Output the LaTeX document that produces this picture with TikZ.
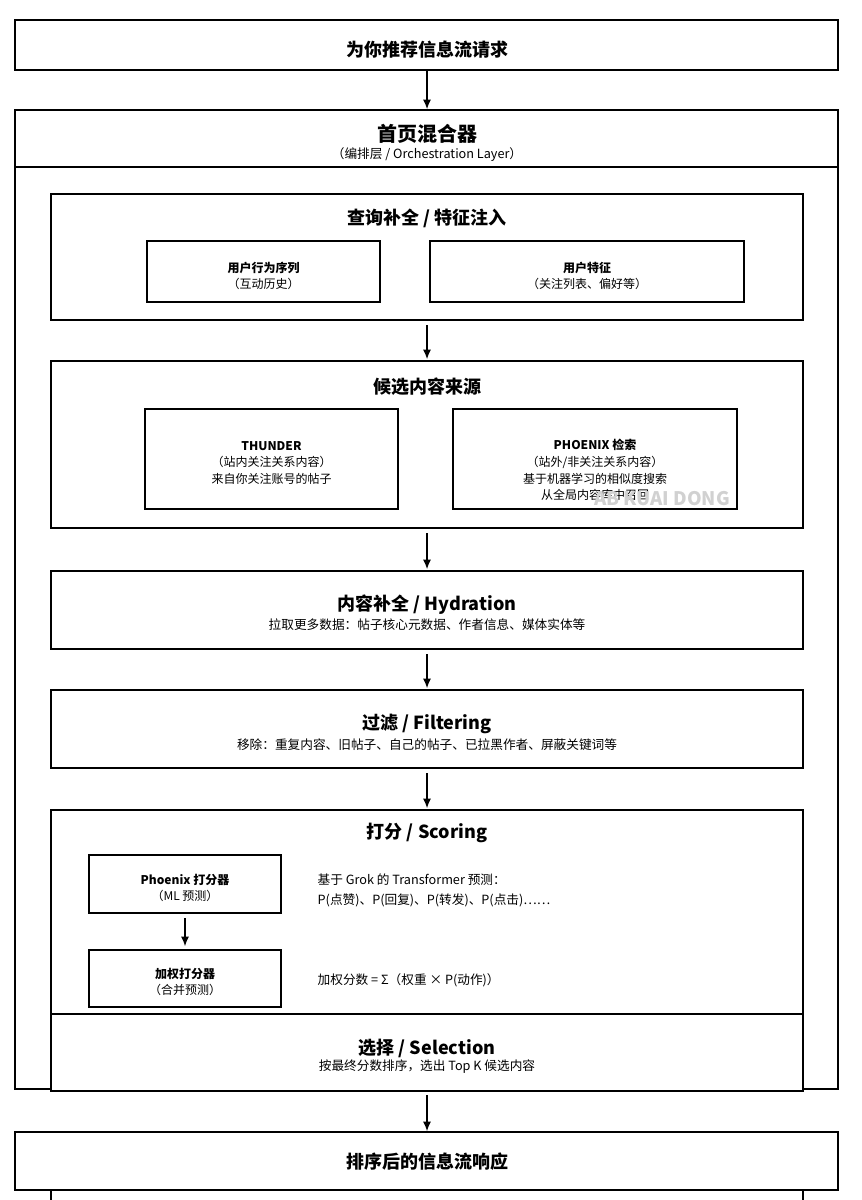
\documentclass[tikz,border=0pt]{standalone}
\usepackage{fontspec}
\setmainfont{Noto Sans CJK SC}
\usetikzlibrary{arrows.meta}

\tikzset{
  box/.style={draw, thick, fill=white, inner sep=0pt},
  flow/.style={thick, -{Latex[length=7pt,width=6pt]}},
  head/.style={font=\bfseries\fontsize{13.5}{16}\selectfont},
  sub/.style={font=\fontsize{9.5}{12}\selectfont},
  small/.style={font=\fontsize{9}{12.5}\selectfont, align=center},
}

\begin{document}
\begin{tikzpicture}[x=0.75pt, y=-0.75pt]
          % Canvas
          \useasboundingbox (0,0) rectangle (862,1200);

          % Request
          \draw[box] (15,20) rectangle (838,70);
          \node[head] (req) at (427,50) {为你推荐信息流请求};
          \coordinate (reqb) at (427,70);
          \coordinate (orct) at (427,109);
          \draw[flow] (reqb) -- (orct);

          % Orchestration layer
          \draw[box] (15,110) rectangle (838,1089);
          \draw[thick] (15,167) -- (838,167);
          \node[head, font=\bfseries\fontsize{15}{18}\selectfont] (orc) at (427,134) {首页混合器};
          \node[sub] (orcsub) at (427,155) {（编排层 / Orchestration Layer）};

          % Query hydration
          \draw[box] (51,194) rectangle (803,320);
          \node[head] (qry) at (427,218) {查询补全 / 特征注入};
          \draw[box] (147,241) rectangle (380,302);
          \node[small] (hist) at (263.5,276) {\textbf{用户行为序列}\\（互动历史）};
          \draw[box] (430,241) rectangle (744,302);
          \node[small] (feat) at (587,276) {\textbf{用户特征}\\（关注列表、偏好等）};
          \coordinate (qryb) at (427,325);
          \coordinate (srct) at (427,359);
          \draw[flow] (qryb) -- (srct);

          % Candidate sources
          \draw[box] (51,361) rectangle (803,528);
          \node[head] (src) at (427,387) {候选内容来源};
          \draw[box] (145,409) rectangle (398,509);
          \node[small] (thunder) at (271.5,463) {\textbf{THUNDER}\\（站内关注关系内容）\\来自你关注账号的帖子};
          \draw[box] (453,409) rectangle (737,509);
          \node[small] (phx) at (595,470) {\textbf{PHOENIX 检索}\\（站外/非关注关系内容）\\基于机器学习的相似度搜索\\从全局内容库中召回};
          \node[font=\bfseries\fontsize{14}{16}\selectfont, text=black!18] (mark) at (662,499) {AB KUAI DONG};
          \coordinate (srcb) at (427,533);
          \coordinate (hydt) at (427,569);
          \draw[flow] (srcb) -- (hydt);

          % Hydration
          \draw[box] (51,571) rectangle (803,649);
          \node[head] (hyd) at (427,605) {内容补全 / Hydration};
          \node[sub] (hydsub) at (427,625) {拉取更多数据：帖子核心元数据、作者信息、媒体实体等};
          \coordinate (hydb) at (427,654);
          \coordinate (filt) at (427,688);
          \draw[flow] (hydb) -- (filt);

          % Filtering
          \draw[box] (51,690) rectangle (803,768);
          \node[head] (fil) at (427,724) {过滤 / Filtering};
          \node[sub] (filsub) at (427,745) {移除：重复内容、旧帖子、自己的帖子、已拉黑作者、屏蔽关键词等};
          \coordinate (filb) at (427,773);
          \coordinate (scot) at (427,808);
          \draw[flow] (filb) -- (scot);

          % Scoring
          \draw[thick, fill=white] (51,1013) -- (51,810) -- (803,810) -- (803,1013);
          \node[head] (sco) at (427,833) {打分 / Scoring};
          \draw[box] (89,855) rectangle (281,913);
          \node[small] (phxs) at (185,888) {\textbf{Phoenix 打分器}\\（ML 预测）};
          \draw[box] (89,950) rectangle (281,1007);
          \node[small] (wsc) at (185,982) {\textbf{加权打分器}\\（合并预测）};
          \coordinate (phxb) at (185,918);
          \coordinate (wsct) at (185,946);
          \draw[flow] (phxb) -- (wsct);
          \node[sub, anchor=west, align=left] (phxtxt) at (313,890) {基于 Grok 的 Transformer 预测：\\[3pt]P(点赞)、P(回复)、P(转发)、P(点击)……};
          \node[sub, anchor=west] (wtxt) at (313,980) {加权分数 = Σ（权重 × P(动作)）};

          % Selection
          \draw[box] (51,1014) rectangle (803,1091);
          \node[head] (sel) at (427,1048) {选择 / Selection};
          \node[sub] (selsub) at (427,1067) {按最终分数排序，选出 Top K 候选内容};
          \coordinate (selb) at (427,1095);
          \coordinate (rest) at (427,1131);
          \draw[flow] (selb) -- (rest);

          % Response
          \draw[box] (15,1132) rectangle (838,1190);
          \node[head] (res) at (427,1162) {排序后的信息流响应};
          \draw[thick] (51,1190) -- (51,1200);
          \draw[thick] (803,1190) -- (803,1200);
\end{tikzpicture}
\end{document}
